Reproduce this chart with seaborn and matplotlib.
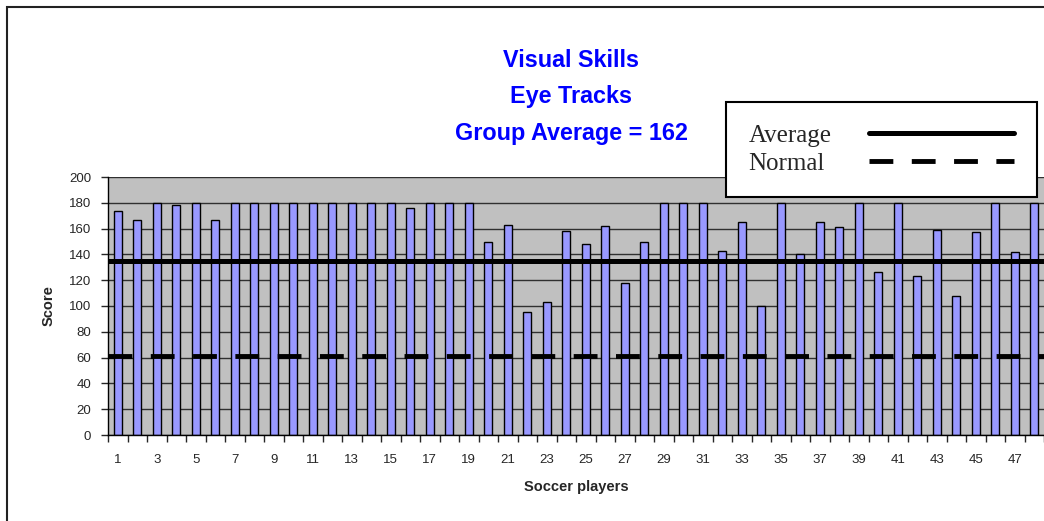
import numpy as np
import matplotlib
matplotlib.use("Agg")
import matplotlib.pyplot as plt
import seaborn as sns
from matplotlib.patches import Rectangle

# chart values
players = [str(i) for i in range(1, 49)]
scores = [174, 167, 180, 178, 180, 167, 180, 180, 180, 180,
          180, 180, 180, 180, 180, 176, 180, 180, 180, 150,
          163, 95, 103, 158, 148, 162, 118, 150, 180, 180,
          180, 143, 165, 100, 180, 140, 165, 161, 180, 126,
          180, 123, 159, 108, 157, 180, 142, 180]
average_score = 135
normal_score = 61
title_lines = ["Visual Skills", "Eye Tracks", "Group Average = 162"]
y_ticks = list(range(0, 201, 20))

sns.set_style("white")
plt.rcParams["font.family"] = ["Liberation Sans", "DejaVu Sans"]

W, H = 1044, 521
fig = plt.figure(figsize=(W / 100, H / 100), dpi=100)
ax = fig.add_axes([108 / W, (H - 435) / H, (W - 108) / W, 258 / H])
ax.set_facecolor("#c0c0c0")

sns.barplot(x=players, y=scores, order=players, color="#9999ff", saturation=1,
            width=0.43, edgecolor="black", linewidth=1, ax=ax, zorder=2)

avg = ax.axhline(average_score, color="black", lw=3.6, zorder=3, label="Average")
norm = ax.axhline(normal_score, color="black", lw=3.5, zorder=3,
                  linestyle=(0, (4.9, 3.8)), label="Normal")

ax.set_xlim(-0.5, 47.5)
ax.set_ylim(0, 200)
ax.set_yticks(y_ticks)
ax.yaxis.grid(True, color="#303030", lw=1, zorder=1)
ax.set_axisbelow(True)

ax.set_xticks(range(0, 48, 2))
ax.set_xticklabels(players[::2])
ax.set_xticks(np.arange(-0.5, 48, 1), minor=True)
ax.tick_params(axis="x", which="major", length=0, pad=14, labelsize=9.5)
ax.tick_params(axis="x", which="minor", length=5, width=1, direction="out", bottom=True)
ax.tick_params(axis="y", length=5, width=1, direction="out", left=True, pad=7, labelsize=9.5)

for side in ["top", "right"]:
    ax.spines[side].set_visible(False)
for side in ["left", "bottom"]:
    ax.spines[side].set_color("black")
    ax.spines[side].set_linewidth(1)

ax.set_xlabel("Soccer players", fontsize=10.5, fontweight="bold", labelpad=10)
ax.set_ylabel("Score", fontsize=10.5, fontweight="bold", labelpad=10)

# three title lines in blue
for txt, base in zip(title_lines, [67, 103, 140]):
    fig.text(571 / W, 1 - base / H, txt, ha="center", va="baseline",
             color="#0000ff", fontsize=16.8, fontweight="bold")

leg_size = 18
leg = fig.legend(handles=[avg, norm], loc="upper left",
                 bbox_to_anchor=(726 / W, 1 - 102 / H), borderaxespad=0,
                 prop={"family": "Liberation Serif", "size": leg_size},
                 markerfirst=False, handlelength=5.8, handletextpad=1.5,
                 borderpad=0.9, labelspacing=0.2, fancybox=False,
                 framealpha=1, edgecolor="black")
leg.get_frame().set_linewidth(1.5)

# labels sit left of the line samples, so left-align them by widening the gap
renderer = fig.canvas.get_renderer()
widths = [t.get_window_extent(renderer).width for t in leg.get_texts()]
column = leg._legend_handle_box.get_children()[0]
column.align = "left"
for row, w in zip(column.get_children(), widths):
    row.sep = 1.5 * leg_size + (max(widths) - w) * 72 / 100

# outer chart border
fig.add_artist(Rectangle((7 / W, -0.1), 1.2, 1.1 - 7 / H, transform=fig.transFigure,
                         fill=False, ec="#222222", lw=1.5))

fig.savefig("out.png", dpi=100)
